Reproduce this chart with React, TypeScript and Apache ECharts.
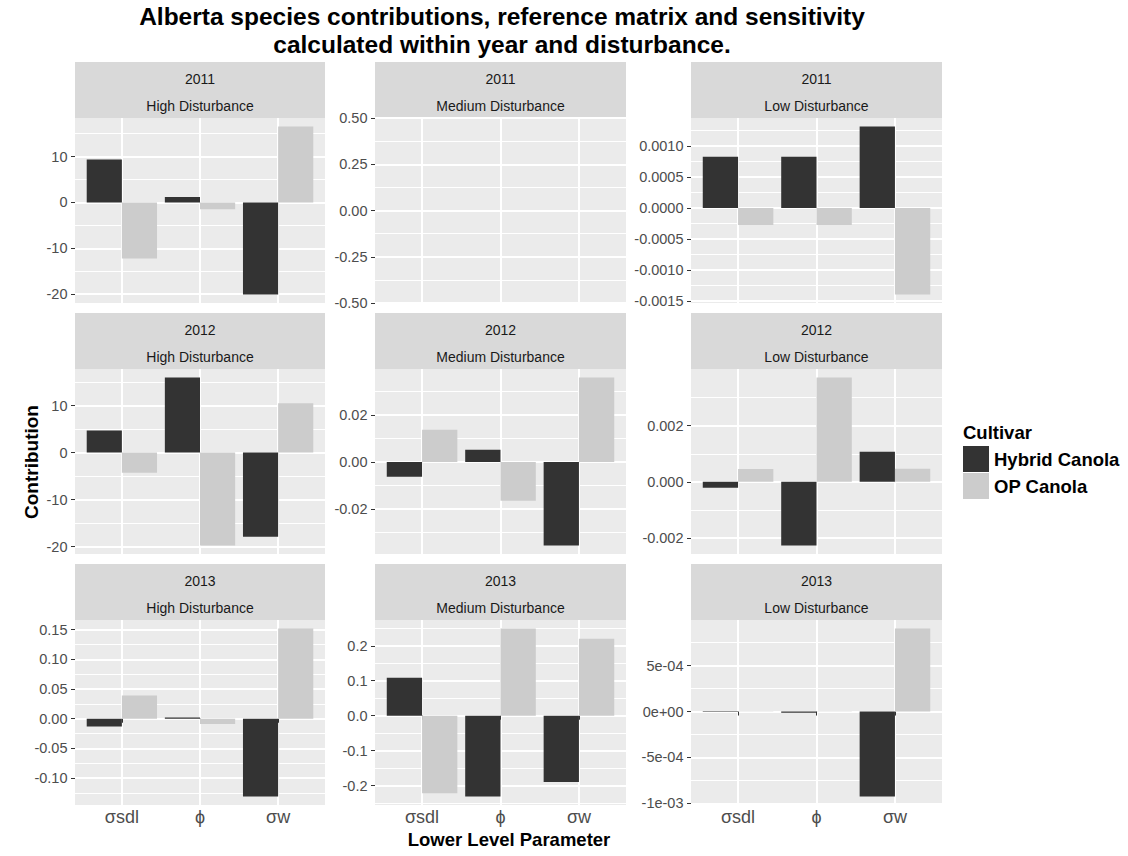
import React, { useEffect, useRef } from "react";
import * as echarts from "echarts";

// ---------- data ----------
const years = ["2011", "2012", "2013"];
const disturbances = ["High Disturbance", "Medium Disturbance", "Low Disturbance"];
const parameters = ["σsdl", "ϕ", "σw"];
const cultivars = ["Hybrid Canola", "OP Canola"];

// contributions, order of parameters: σsdl, ϕ, σw
const hybrid2011High = [9.4, 1.2, -20.1];
const op2011High = [-12.2, -1.5, 16.6];
const hybrid2011Medium = [0, 0, 0];
const op2011Medium = [0, 0, 0];
const hybrid2011Low = [0.00083, 0.00083, 0.00132];
const op2011Low = [-0.000275, -0.000275, -0.0014];

const hybrid2012High = [4.7, 16.0, -17.9];
const op2012High = [-4.3, -19.8, 10.5];
const hybrid2012Medium = [-0.0063, 0.0052, -0.0355];
const op2012Medium = [0.0137, -0.0165, 0.0359];
const hybrid2012Low = [-0.00021, -0.00227, 0.00107];
const op2012Low = [0.00046, 0.00372, 0.00047];

const hybrid2013High = [-0.013, 0.002, -0.131];
const op2013High = [0.0393, -0.009, 0.152];
const hybrid2013Medium = [0.1086, -0.2314, -0.19];
const op2013Medium = [-0.2217, 0.2497, 0.22];
const hybrid2013Low = [-0.000004, -0.000012, -0.000926];
const op2013Low = [0.000002, 0.000003, 0.000905];

// y tick values and labels per panel
const ticksHigh2011 = [-20, -10, 0, 10];
const labelsHigh2011 = ["-20", "-10", "0", "10"];
const ticksMedium2011 = [-0.5, -0.25, 0, 0.25, 0.5];
const labelsMedium2011 = ["-0.50", "-0.25", "0.00", "0.25", "0.50"];
const ticksLow2011 = [-0.0015, -0.001, -0.0005, 0, 0.0005, 0.001];
const labelsLow2011 = ["-0.0015", "-0.0010", "-0.0005", "0.0000", "0.0005", "0.0010"];

const ticksHigh2012 = [-20, -10, 0, 10];
const labelsHigh2012 = ["-20", "-10", "0", "10"];
const ticksMedium2012 = [-0.02, 0, 0.02];
const labelsMedium2012 = ["-0.02", "0.00", "0.02"];
const ticksLow2012 = [-0.002, 0, 0.002];
const labelsLow2012 = ["-0.002", "0.000", "0.002"];

const ticksHigh2013 = [-0.1, -0.05, 0, 0.05, 0.1, 0.15];
const labelsHigh2013 = ["-0.10", "-0.05", "0.00", "0.05", "0.10", "0.15"];
const ticksMedium2013 = [-0.2, -0.1, 0, 0.1, 0.2];
const labelsMedium2013 = ["-0.2", "-0.1", "0.0", "0.1", "0.2"];
const ticksLow2013 = [-0.001, -0.0005, 0, 0.0005];
const labelsLow2013 = ["-1e-03", "-5e-04", "0e+00", "5e-04"];

const hybridValues = [
  [hybrid2011High, hybrid2011Medium, hybrid2011Low],
  [hybrid2012High, hybrid2012Medium, hybrid2012Low],
  [hybrid2013High, hybrid2013Medium, hybrid2013Low],
];
const opValues = [
  [op2011High, op2011Medium, op2011Low],
  [op2012High, op2012Medium, op2012Low],
  [op2013High, op2013Medium, op2013Low],
];
const tickValues = [
  [ticksHigh2011, ticksMedium2011, ticksLow2011],
  [ticksHigh2012, ticksMedium2012, ticksLow2012],
  [ticksHigh2013, ticksMedium2013, ticksLow2013],
];
const tickLabels = [
  [labelsHigh2011, labelsMedium2011, labelsLow2011],
  [labelsHigh2012, labelsMedium2012, labelsLow2012],
  [labelsHigh2013, labelsMedium2013, labelsLow2013],
];

// ---------- layout / style ----------
const FONT = "'Liberation Sans', Arial, Helvetica, sans-serif";
const colLeft = [75, 375, 691];
const colWidth = [250, 251, 251];
const rowTop = [118, 369, 620];
const plotH = 185;
const stripH = 56;
const HYBRID = "#333333";
const OP = "#CCCCCC";

function buildOption() {
  const grids: any[] = [];
  const xAxes: any[] = [];
  const yAxes: any[] = [];
  const series: any[] = [];
  const graphics: any[] = [];

  for (let r = 0; r < 3; r++) {
    for (let c = 0; c < 3; c++) {
      const i = r * 3 + c;
      const bottomRow = r === 2;
      grids.push({
        left: colLeft[c],
        top: rowTop[r],
        width: colWidth[c],
        height: plotH,
        show: true,
        backgroundColor: "#EBEBEB",
        borderWidth: 0,
        containLabel: false,
      });
      xAxes.push({
        type: "value",
        gridIndex: i,
        min: 0.4,
        max: 3.6,
        axisLine: { show: false },
        axisTick: {
          show: bottomRow,
          length: 4,
          lineStyle: { color: "#333333", width: 1 },
          customValues: [1, 2, 3],
        },
        axisLabel: {
          show: bottomRow,
          customValues: [1, 2, 3],
          formatter: (v: number) => parameters[Math.round(v) - 1],
          fontSize: 18,
          color: "#4D4D4D",
          fontFamily: FONT,
          margin: 3,
        },
        splitLine: { show: true, lineStyle: { color: "#FFFFFF", width: 2 } },
      });

      const h = hybridValues[r][c];
      const o = opValues[r][c];
      const all = [...h, ...o, 0];
      let lo = Math.min(...all);
      let hi = Math.max(...all);
      if (hi - lo === 0) {
        lo -= 0.5;
        hi += 0.5;
      } else {
        const pad = (hi - lo) * 0.05;
        lo -= pad;
        hi += pad;
      }
      const breaks = tickValues[r][c];
      const labels = tickLabels[r][c];
      const step = breaks[1] - breaks[0];
      const minors = [breaks[0] - step / 2, ...breaks.map((b) => b + step / 2)].filter(
        (m) => m >= lo && m <= hi
      );

      // major axis (labels, ticks, major grid)
      yAxes.push({
        type: "value",
        gridIndex: i,
        position: "left",
        min: lo,
        max: hi,
        axisLine: { show: false },
        axisTick: {
          show: true,
          length: 4,
          lineStyle: { color: "#333333", width: 1 },
          customValues: breaks,
        },
        axisLabel: {
          show: true,
          customValues: breaks,
          formatter: (v: number) => {
            let best = 0;
            for (let k = 1; k < breaks.length; k++) {
              if (Math.abs(breaks[k] - v) < Math.abs(breaks[best] - v)) best = k;
            }
            return labels[best];
          },
          fontSize: 14.5,
          color: "#4D4D4D",
          fontFamily: FONT,
          margin: 7.5,
        },
        splitLine: { show: true, lineStyle: { color: "#FFFFFF", width: 2 } },
      });
      // minor grid axis
      yAxes.push({
        type: "value",
        gridIndex: i,
        position: "left",
        min: lo,
        max: hi,
        axisLine: { show: false },
        axisTick: { show: false, customValues: minors },
        axisLabel: { show: false, customValues: minors },
        splitLine: { show: true, lineStyle: { color: "#FFFFFF", width: 1 } },
      });

      series.push({
        type: "bar",
        name: cultivars[0],
        xAxisIndex: i,
        yAxisIndex: 2 * i,
        data: h.map((v, k) => [k + 1, v]),
        barWidth: "45%",
        barGap: "0%",
        itemStyle: { color: HYBRID },
        silent: true,
      });
      series.push({
        type: "bar",
        name: cultivars[1],
        xAxisIndex: i,
        yAxisIndex: 2 * i,
        data: o.map((v, k) => [k + 1, v]),
        barWidth: "45%",
        barGap: "0%",
        itemStyle: { color: OP },
        silent: true,
      });

      // strip
      const sx = colLeft[c];
      const sy = rowTop[r] - stripH;
      graphics.push({
        type: "rect",
        shape: { x: sx, y: sy, width: colWidth[c], height: stripH },
        style: { fill: "#D9D9D9" },
        silent: true,
      });
      graphics.push({
        type: "text",
        x: sx + colWidth[c] / 2,
        y: sy + 16.5,
        style: {
          text: years[r],
          fontSize: 14,
          fontFamily: FONT,
          fill: "#1A1A1A",
          align: "center",
          verticalAlign: "middle",
        },
      });
      graphics.push({
        type: "text",
        x: sx + colWidth[c] / 2,
        y: sy + 43.5,
        style: {
          text: disturbances[c],
          fontSize: 14,
          fontFamily: FONT,
          fill: "#1A1A1A",
          align: "center",
          verticalAlign: "middle",
        },
      });
    }
  }

  // titles
  graphics.push({
    type: "text",
    x: 502,
    y: 16,
    style: {
      text: "Alberta species contributions, reference matrix and sensitivity",
      fontSize: 24.5,
      fontWeight: "bold",
      fontFamily: FONT,
      fill: "#000000",
      align: "center",
      verticalAlign: "middle",
    },
  });
  graphics.push({
    type: "text",
    x: 502,
    y: 44.5,
    style: {
      text: "calculated within year and disturbance.",
      fontSize: 24.5,
      fontWeight: "bold",
      fontFamily: FONT,
      fill: "#000000",
      align: "center",
      verticalAlign: "middle",
    },
  });
  graphics.push({
    type: "text",
    x: 31,
    y: 462,
    rotation: Math.PI / 2,
    style: {
      text: "Contribution",
      fontSize: 19,
      fontWeight: "bold",
      fontFamily: FONT,
      fill: "#000000",
      align: "center",
      verticalAlign: "middle",
    },
  });
  graphics.push({
    type: "text",
    x: 509,
    y: 839,
    style: {
      text: "Lower Level Parameter",
      fontSize: 18.5,
      fontWeight: "bold",
      fontFamily: FONT,
      fill: "#000000",
      align: "center",
      verticalAlign: "middle",
    },
  });
  graphics.push({
    type: "text",
    x: 963,
    y: 432,
    style: {
      text: "Cultivar",
      fontSize: 18.5,
      fontWeight: "bold",
      fontFamily: FONT,
      fill: "#000000",
      align: "left",
      verticalAlign: "middle",
    },
  });

  return {
    animation: false,
    backgroundColor: "#FFFFFF",
    grid: grids,
    xAxis: xAxes,
    yAxis: yAxes,
    series,
    legend: {
      data: cultivars,
      orient: "vertical",
      left: 963,
      top: 446,
      padding: 0,
      itemWidth: 26,
      itemHeight: 26,
      itemGap: 1,
      icon: "rect",
      selectedMode: false,
      textStyle: {
        fontSize: 18.5,
        fontWeight: "bold",
        fontFamily: FONT,
        color: "#000000",
      },
    },
    graphic: graphics,
  };
}

export default function App() {
  const ref = useRef<HTMLDivElement>(null);
  useEffect(() => {
    if (!ref.current) return;
    const chart = echarts.init(ref.current, undefined, { renderer: "svg" });
    chart.setOption(buildOption() as any);
    return () => chart.dispose();
  }, []);
  return (
    <div
      ref={ref}
      style={{ position: "absolute", left: 0, top: 0, width: 1128, height: 856 }}
    />
  );
}
